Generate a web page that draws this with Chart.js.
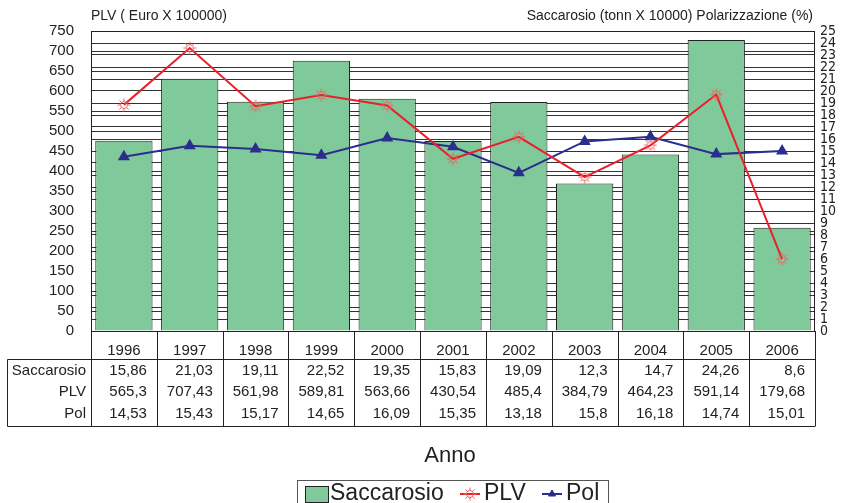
<!DOCTYPE html>
<html>
<head>
<meta charset="utf-8">
<script src="https://cdn.jsdelivr.net/npm/chart.js@4"></script>
<style>
  html, body { margin: 0; padding: 0; background: #fff; }
  #wrap { width: 848px; height: 503px; }
</style>
</head>
<body>
<div id="wrap"><canvas id="chart" width="848" height="503"></canvas></div>
<script>
const anni = ['1996', '1997', '1998', '1999', '2000', '2001', '2002', '2003', '2004', '2005', '2006'];
const saccarosio = [15.86, 21.03, 19.11, 22.52, 19.35, 15.83, 19.09, 12.3, 14.7, 24.26, 8.6];
const plv = [565.3, 707.43, 561.98, 589.81, 563.66, 430.54, 485.4, 384.79, 464.23, 591.14, 179.68];
const pol = [14.53, 15.43, 15.17, 14.65, 16.09, 15.35, 13.18, 15.8, 16.18, 14.74, 15.01];

const FONT = "'Liberation Sans', Arial, sans-serif";
const NARROW = "'DejaVu Sans Condensed', 'Liberation Sans Narrow', sans-serif";
const GREEN = '#80c99b';
const RED = '#e8202a';
const BLUE = '#2a2e8c';

function fmt(v) {
    return String(v).replace('.', ',');
}

// small "sun" marker used for PLV
function sunMarker() {
    const cv = document.createElement('canvas');
    cv.width = 14; cv.height = 14;
    const g = cv.getContext('2d');
    g.strokeStyle = '#f06060';
    g.lineWidth = 1;
    g.beginPath();
    g.arc(7, 7, 3.5, 0, Math.PI * 2);
    for (let i = 0; i < 8; i++) {
        const a = i * Math.PI / 4;
        g.moveTo(7 + Math.cos(a) * 3.5, 7 + Math.sin(a) * 3.5);
        g.lineTo(7 + Math.cos(a) * 6.5, 7 + Math.sin(a) * 6.5);
    }
    g.stroke();
    return cv;
}
const sun = sunMarker();

// titles, frame, data table and legend
const extras = {
    id: 'extras',
    afterDraw(chart) {
        const c = chart.ctx;
        const area = chart.chartArea;
        const x = chart.scales.x;
        const colW = (area.right - area.left) / anni.length;
        c.save();

        // frame
        c.strokeStyle = '#222';
        c.lineWidth = 1;
        c.strokeRect(area.left + 0.5, area.top + 0.5, area.right - area.left - 1, area.bottom - area.top);

        // axis titles
        c.fillStyle = '#222';
        c.font = '14px ' + FONT;
        c.textBaseline = 'middle';
        c.textAlign = 'left';
        c.fillText('PLV ( Euro X 100000)', area.left, 16);
        c.textAlign = 'right';
        c.fillText('Saccarosio (tonn X 10000) Polarizzazione (%)', area.right - 2, 16);

        // table
        const tLeft = 7.5;
        const rowTop = 359.5;
        const tBottom = 426.5;
        c.beginPath();
        c.moveTo(tLeft, rowTop); c.lineTo(area.right, rowTop);
        c.moveTo(tLeft, tBottom); c.lineTo(area.right, tBottom);
        c.moveTo(tLeft, rowTop); c.lineTo(tLeft, tBottom);
        for (let i = 0; i <= anni.length; i++) {
            const lx = Math.round(area.left + i * colW) + 0.5;
            c.moveTo(lx, area.bottom); c.lineTo(lx, tBottom);
        }
        c.stroke();

        c.font = '15px ' + FONT;
        const rows = [['Saccarosio', saccarosio], ['PLV', plv], ['Pol', pol]];
        const rowY = [371, 392, 414];
        anni.forEach((a, i) => {
            const cx = x.getPixelForValue(i);
            c.textAlign = 'center';
            c.fillText(a, cx, 351);
            c.textAlign = 'right';
            rows.forEach((r, k) => c.fillText(fmt(r[1][i]), cx + 23, rowY[k]));
        });
        c.textAlign = 'right';
        rows.forEach((r, k) => c.fillText(r[0], area.left - 5, rowY[k]));

        // x title
        c.font = '22px ' + FONT;
        c.textAlign = 'center';
        c.fillText('Anno', 450, 456);

        // legend
        c.font = '23px ' + FONT;
        c.strokeStyle = '#555';
        c.strokeRect(297.5, 480.5, 311, 30);
        c.fillStyle = GREEN;
        c.fillRect(305, 486, 24, 17);
        c.strokeStyle = '#222';
        c.strokeRect(305.5, 486.5, 23, 16);
        c.fillStyle = '#222';
        c.textAlign = 'left';
        c.fillText('Saccarosio', 330, 494);
        const items = [[460, 'PLV', RED, sun], [542, 'Pol', BLUE, 'triangle']];
        items.forEach(([lx, label, col, st]) => {
            c.strokeStyle = col;
            c.lineWidth = 2;
            c.beginPath();
            c.moveTo(lx, 494); c.lineTo(lx + 20, 494);
            c.stroke();
            c.lineWidth = 1;
            c.fillStyle = col;
            Chart.helpers.drawPoint(c, { pointStyle: st, radius: 4, borderWidth: 1, rotation: 0 }, lx + 10, 494);
            if (st === 'triangle') c.fill();
            c.fillStyle = '#222';
            c.fillText(label, lx + 24, 494);
        });
        c.restore();
    }
};

new Chart(document.getElementById('chart'), {
    type: 'bar',
    data: {
        labels: anni,
        datasets: [
            {
                type: 'line',
                label: 'PLV',
                data: plv,
                yAxisID: 'y',
                borderColor: RED,
                borderWidth: 2,
                pointStyle: sun,
                pointRadius: 5,
                order: 1
            },
            {
                type: 'line',
                label: 'Pol',
                data: pol,
                yAxisID: 'y1',
                borderColor: BLUE,
                borderWidth: 2,
                pointStyle: 'triangle',
                pointRadius: 5,
                pointBorderColor: BLUE,
                pointBackgroundColor: BLUE,
                order: 2
            },
            {
                label: 'Saccarosio',
                data: saccarosio,
                yAxisID: 'y1',
                backgroundColor: GREEN,
                borderColor: '#222',
                borderWidth: 1,
                barPercentage: 0.87,
                categoryPercentage: 1,
                order: 3
            }
        ]
    },
    options: {
        responsive: false,
        animation: false,
        layout: { padding: { left: 0, right: 0, top: 31, bottom: 172 } },
        plugins: {
            legend: { display: false },
            tooltip: { enabled: false }
        },
        scales: {
            x: { display: false },
            y: {
                position: 'left',
                min: 0,
                max: 750,
                afterFit: s => { s.width = 91; },
                ticks: { stepSize: 50, autoSkip: false, color: '#222', padding: 17, font: { family: FONT, size: 15 } },
                grid: { color: '#333', drawTicks: false },
                border: { display: false }
            },
            y1: {
                position: 'right',
                min: 0,
                max: 25,
                afterFit: s => { s.width = 33; },
                ticks: { stepSize: 1, autoSkip: false, color: '#222', padding: 5, font: { family: NARROW, size: 14 } },
                grid: { color: '#333', drawTicks: false },
                border: { display: false }
            }
        }
    },
    plugins: [extras]
});
</script>
</body>
</html>
